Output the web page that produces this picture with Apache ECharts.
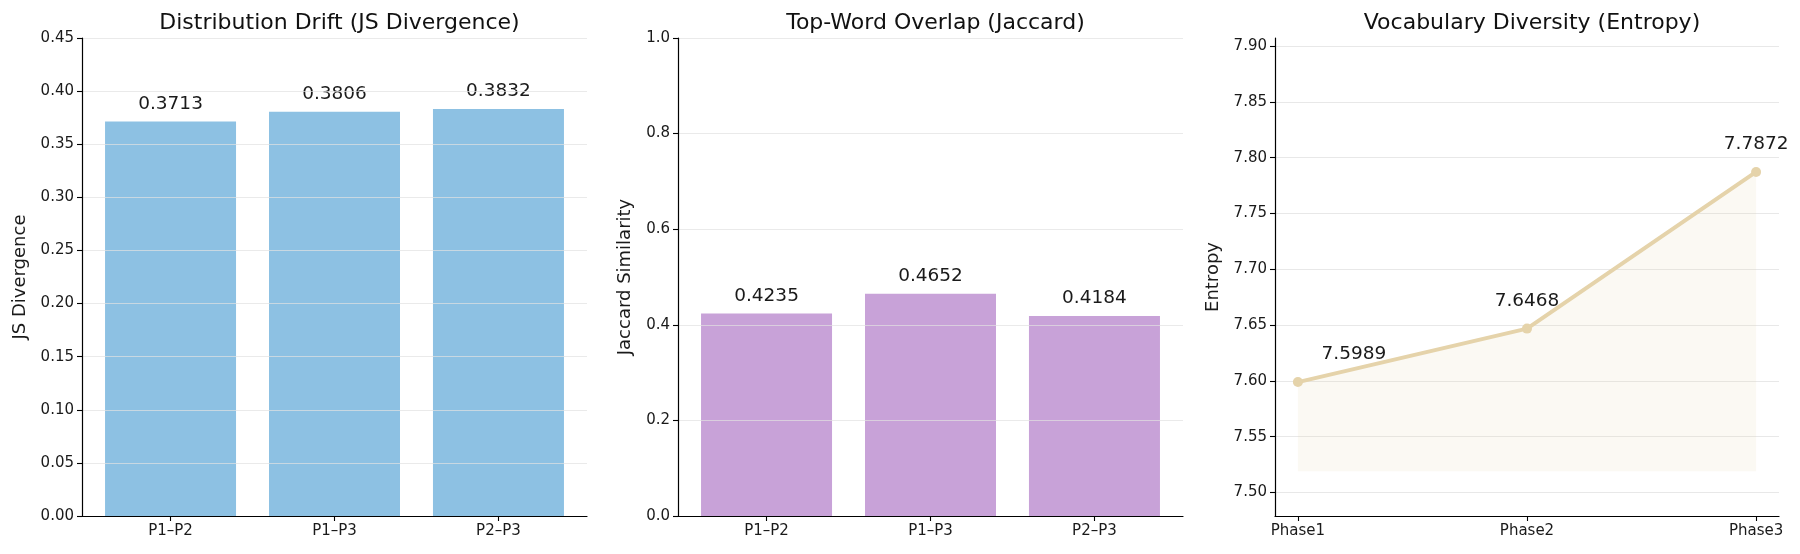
<!DOCTYPE html>
<html>
<head>
<meta charset="utf-8">
<script src="https://cdn.jsdelivr.net/npm/echarts@6/dist/echarts.min.js"></script>
<style>
html,body{margin:0;padding:0;background:#fff;}
#c{width:1800px;height:554px;}
</style>
</head>
<body>
<div id="c"></div>
<script>
// ---- data ----
const pairCategories = ['P1–P2', 'P1–P3', 'P2–P3'];
const jsDivergence = [0.3713, 0.3806, 0.3832];
const jaccardSimilarity = [0.4235, 0.4652, 0.4184];
const phaseCategories = ['Phase1', 'Phase2', 'Phase3'];
const entropyValues = [7.5989, 7.6468, 7.7872];
const jsTicks = [0, 0.05, 0.1, 0.15, 0.2, 0.25, 0.3, 0.35, 0.4, 0.45];
const jaccardTicks = [0, 0.2, 0.4, 0.6, 0.8, 1.0];
const entropyTicks = [7.50, 7.55, 7.60, 7.65, 7.70, 7.75, 7.80, 7.85, 7.90];
const entropyMin = 7.4789, entropyMax = 7.9072, entropyFillBase = 7.5189;

const FONT = 'DejaVu Sans';
const txt = '#1a1a1a';
const gridColorOver = 'rgba(225,225,225,0.7)';
const gridColor = '#e8e8e8';

const chart = echarts.init(document.getElementById('c'), null, {renderer: 'canvas'});

const grids = [
  {left: 82, width: 505, top: 38, height: 478},
  {left: 678, width: 505, top: 38, height: 478},
  {left: 1275, width: 504, top: 38, height: 478}
];

function xAxisCfg(gi, cats, min, max) {
  const idx = cats.map((_, i) => i);
  return {
    type: 'value', gridIndex: gi, min: min, max: max, z: 8,
    axisLine: {show: true, onZero: false, lineStyle: {color: '#000', width: 1.2}},
    axisTick: {show: true, length: 5, lineStyle: {color: '#000', width: 1.1}, customValues: idx},
    axisLabel: {color: txt, fontFamily: FONT, fontSize: 15, margin: 8, customValues: idx,
                formatter: v => cats[Math.round(v)]},
    splitLine: {show: false}
  };
}

function yAxisCfg(gi, min, max, ticks, name, gap, digits, over) {
  return {
    type: 'value', gridIndex: gi, min: min, max: max, z: over ? 5 : 0,
    name: name, nameLocation: 'middle', nameGap: gap, nameRotate: 90,
    nameTextStyle: {color: txt, fontFamily: FONT, fontSize: 18},
    axisLine: {show: true, onZero: false, lineStyle: {color: '#000', width: 1.2}},
    axisTick: {show: true, length: 5, lineStyle: {color: '#000', width: 1.1}, customValues: ticks},
    axisLabel: {color: txt, fontFamily: FONT, fontSize: 15, margin: 8, customValues: ticks,
                formatter: v => v.toFixed(digits)},
    splitLine: {show: true, lineStyle: {color: over ? gridColorOver : gridColor, width: 1.2}}
  };
}

const titleStyle = {fontFamily: FONT, fontSize: 22, fontWeight: 'normal', color: '#111'};

const option = {
  animation: false,
  backgroundColor: '#fff',
  title: [
    {text: 'Distribution Drift (JS Divergence)', left: 334.5, top: 7, textAlign: 'center', textStyle: titleStyle},
    {text: 'Top-Word Overlap (Jaccard)', left: 930.5, top: 7, textAlign: 'center', textStyle: titleStyle},
    {text: 'Vocabulary Diversity (Entropy)', left: 1527, top: 7, textAlign: 'center', textStyle: titleStyle}
  ],
  grid: grids,
  xAxis: [
    xAxisCfg(0, pairCategories, -0.54, 2.54),
    xAxisCfg(1, pairCategories, -0.54, 2.54),
    xAxisCfg(2, phaseCategories, -0.1, 2.1)
  ],
  yAxis: [
    yAxisCfg(0, 0, 0.45, jsTicks, 'JS Divergence', 53, 2, true),
    yAxisCfg(1, 0, 1.0, jaccardTicks, 'Jaccard Similarity', 44, 1, true),
    yAxisCfg(2, entropyMin, entropyMax, entropyTicks, 'Entropy', 53, 2, false)
  ],
  series: [
    {
      type: 'bar', xAxisIndex: 0, yAxisIndex: 0, barWidth: 131,
      data: jsDivergence.map((v, i) => [i, v]),
      itemStyle: {color: '#8dc1e3'},
      label: {show: true, position: 'top', distance: 8, color: txt, fontFamily: FONT, fontSize: 18.5,
              formatter: p => p.value[1].toFixed(4)}
    },
    {
      type: 'bar', xAxisIndex: 1, yAxisIndex: 1, barWidth: 131,
      data: jaccardSimilarity.map((v, i) => [i, v]),
      itemStyle: {color: '#c8a2d8'},
      label: {show: true, position: 'top', distance: 8, color: txt, fontFamily: FONT, fontSize: 18.5,
              formatter: p => p.value[1].toFixed(4)}
    },
    {
      type: 'line', xAxisIndex: 2, yAxisIndex: 2,
      data: entropyValues.map((v, i) => ({value: [i, v], label: i === 0 ? {offset: [56, 0]} : {}})),
      symbol: 'circle', symbolSize: 10,
      lineStyle: {color: '#e5d3aa', width: 4},
      itemStyle: {color: '#e5d3aa'},
      areaStyle: {color: 'rgba(229,211,170,0.2)', origin: entropyFillBase},
      label: {show: true, position: 'top', distance: 13, color: txt, fontFamily: FONT, fontSize: 18.5,
              formatter: p => p.value[1].toFixed(4)}
    }
  ]
};
chart.setOption(option);
</script>
</body>
</html>
